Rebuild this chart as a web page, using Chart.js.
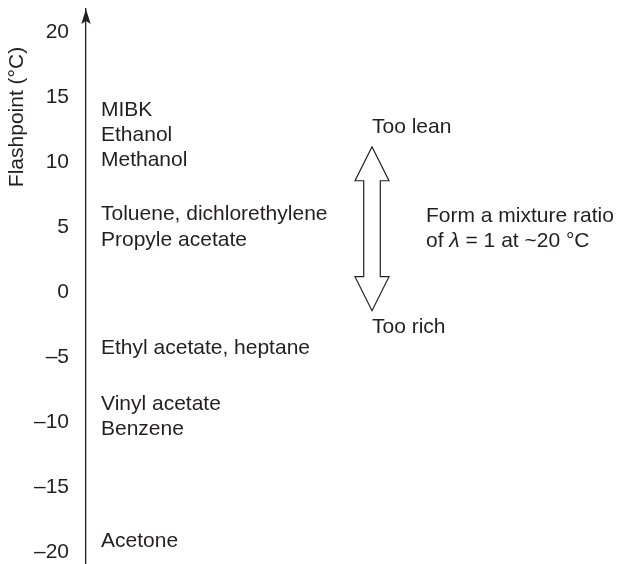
<!DOCTYPE html>
<html>
<head>
<meta charset="utf-8">
<title>Flashpoint of solvents</title>
<script src="https://cdn.jsdelivr.net/npm/chart.js@4/dist/chart.umd.min.js"></script>
<style>
  html, body { margin: 0; padding: 0; background: #fff; }
  canvas { display: block; }
</style>
</head>
<body>
<canvas id="flashChart" width="617" height="564"></canvas>
<script>
// axis ticks
const tickValues = [-20, -15, -10, -5, 0, 5, 10, 15, 20];
const tickLabels = ['\u201320', '\u201315', '\u201310', '\u20135', '0', '5', '10', '15', '20'];

// solvents and where they sit on the flashpoint axis (°C)
const solvents = ['MIBK', 'Ethanol', 'Methanol', 'Toluene, dichlorethylene', 'Propyle acetate',
  'Ethyl acetate, heptane', 'Vinyl acetate', 'Benzene', 'Acetone'];
const flashpoints = [14, 12.1, 10.2, 6, 4, -4.3, -8.6, -10.5, -19.15];

// double arrow: flashpoint at its upper and lower tip
const arrowTop = 11.2;
const arrowBottom = -1.4;
const arrowTopLabel = 'Too lean';
const arrowBottomLabel = 'Too rich';

const axisTitle = 'Flashpoint (\u00b0C)';
const yMin = -20.87;
const yMax = 21.79;

const ink = '#231f20';
const fontFamily = "'Liberation Sans', Arial, Helvetica, sans-serif";
Chart.defaults.font.family = fontFamily;
Chart.defaults.color = ink;

const font = '21px ' + fontFamily;

// draws solvent names, the lean/rich arrow, the note, the axis title and the axis arrowhead
const annotations = {
  id: 'annotations',
  afterDraw(chart) {
    const ctx = chart.ctx;
    const area = chart.chartArea;
    const y = chart.scales.y;
    const meta = chart.getDatasetMeta(0);

    ctx.save();
    ctx.fillStyle = ink;
    ctx.strokeStyle = ink;
    ctx.font = font;
    ctx.textAlign = 'left';
    ctx.textBaseline = 'middle';

    // solvent names
    meta.data.forEach((pt, i) => {
      ctx.fillText(solvents[i], area.left + 15, pt.y);
    });

    // hollow double arrow
    const cx = area.left + 286;
    const yt = y.getPixelForValue(arrowTop);
    const yb = y.getPixelForValue(arrowBottom);
    const hw = 17, sw = 8.3, hl = 34;
    ctx.beginPath();
    ctx.moveTo(cx, yt);
    ctx.lineTo(cx + hw, yt + hl);
    ctx.lineTo(cx + sw, yt + hl);
    ctx.lineTo(cx + sw, yb - hl);
    ctx.lineTo(cx + hw, yb - hl);
    ctx.lineTo(cx, yb);
    ctx.lineTo(cx - hw, yb - hl);
    ctx.lineTo(cx - sw, yb - hl);
    ctx.lineTo(cx - sw, yt + hl);
    ctx.lineTo(cx - hw, yt + hl);
    ctx.closePath();
    ctx.fillStyle = '#fff';
    ctx.fill();
    ctx.lineWidth = 1.2;
    ctx.lineJoin = 'miter';
    ctx.stroke();

    ctx.fillStyle = ink;
    ctx.fillText(arrowTopLabel, cx, yt - 20);
    ctx.fillText(arrowBottomLabel, cx, yb + 16.5);

    // note next to the arrow, lambda in italic
    const nx = cx + 54;
    const ny = (yt + yb) / 2;
    ctx.fillText('Form a mixture ratio', nx, ny - 12.5);
    let x = nx;
    const parts = [['of ', font], ['\u03bb', 'italic ' + font], [' = 1 at ~20 \u00b0C', font]];
    parts.forEach(([txt, f]) => {
      ctx.font = f;
      ctx.fillText(txt, x, ny + 12.5);
      x += ctx.measureText(txt).width;
    });
    ctx.font = font;

    // axis title, rotated
    ctx.save();
    ctx.translate(23, 117);
    ctx.rotate(-Math.PI / 2);
    ctx.textAlign = 'center';
    ctx.textBaseline = 'alphabetic';
    ctx.fillText(axisTitle, 0, 0);
    ctx.restore();

    // arrowhead on top of the axis
    const ax = area.left;
    ctx.beginPath();
    ctx.moveTo(ax, area.top);
    ctx.lineTo(ax + 4.7, area.top + 15);
    ctx.lineTo(ax, area.top + 12);
    ctx.lineTo(ax - 4.7, area.top + 15);
    ctx.closePath();
    ctx.fill();

    ctx.restore();
  }
};

new Chart(document.getElementById('flashChart'), {
  type: 'scatter',
  data: {
    datasets: [{
      label: 'Flashpoint',
      data: flashpoints.map(v => ({ x: 0, y: v })),
      pointRadius: 0,
      pointHoverRadius: 0,
      showLine: false
    }]
  },
  options: {
    responsive: false,
    devicePixelRatio: 1,
    animation: false,
    events: [],
    layout: { padding: { top: 9, right: 0, bottom: 0, left: 0 } },
    plugins: {
      legend: { display: false },
      tooltip: { enabled: false }
    },
    scales: {
      x: { type: 'linear', display: false, min: 0, max: 1 },
      y: {
        type: 'linear',
        min: yMin,
        max: yMax,
        afterBuildTicks(scale) {
          scale.ticks = tickValues.map(v => ({ value: v }));
        },
        afterFit(scale) {
          scale.width = 86;
          scale.paddingTop = 0;
          scale.paddingBottom = 0;
        },
        ticks: {
          callback: (v, i) => tickLabels[i],
          font: { size: 21 },
          color: ink,
          padding: 17
        },
        grid: { display: false, drawTicks: false },
        border: { display: true, color: ink, width: 1.3 }
      }
    }
  },
  plugins: [annotations]
});
</script>
</body>
</html>
